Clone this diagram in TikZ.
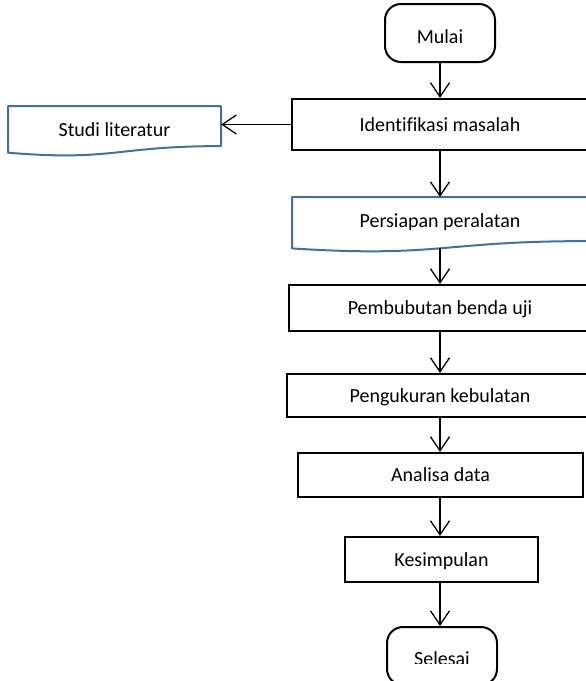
\documentclass[tikz,border=0pt]{standalone}
\usepackage{fontspec}
\setmainfont{Carlito}[Ligatures=NoCommon]
\usetikzlibrary{arrows.meta}
\definecolor{docblue}{HTML}{41719C}
\begin{document}
\begin{tikzpicture}[x=1pt,y=-1pt,
  every node/.style={font=\fontsize{20}{24}\selectfont, inner sep=0pt, text height=13pt, text depth=0pt},
  proc/.style={draw=black, line width=2.2pt, minimum height=#1},
  term/.style={draw=black, line width=2pt, rounded corners=16pt, minimum width=110pt, minimum height=58pt},
  doctext/.style={draw=none},
  docline/.style={draw=docblue, line width=2pt, line join=round},
  arr/.style={line width=1.3pt, -{Straight Barb[length=14pt,width=19pt]}}
]
\useasboundingbox (0,0) rectangle (586,681);
\clip (0,0) rectangle (586,681);

% terminals
\node[term, text height=20pt] (mulai) at (440,33) {Mulai};
\node[term] (selesai) at (442,656) {};
\begin{scope}
  \clip (380,600) rectangle (510,663);
  \node (selesaitext) at (442,658.5) {Selesai};
\end{scope}

% process boxes
\node[proc=51pt, minimum width=296pt] (ident) at (440,124.5) {Identifikasi masalah};
\node[proc=46pt, minimum width=302pt] (bubut) at (440,308) {Pembubutan benda uji};
\node[proc=43pt, minimum width=306pt] (ukur) at (440,395.5) {Pengukuran kebulatan};
\node[proc=44pt, minimum width=285pt] (analisa) at (440.5,475) {Analisa data};
\node[proc=45pt, minimum width=193pt] (simpul) at (441.5,559.5) {Kesimpulan};

% document shapes
\node[doctext, minimum width=213pt] (studi) at (114.5,129.5) {Studi literatur};
\draw[docline] (8,106) -- (221,106) -- (221,146.1)
  .. controls (114.5,146.1) and (114.5,161.4) .. (8,152.7) -- cycle;

\node[doctext, minimum width=296pt] (siap) at (440,221) {Persiapan peralatan};
\draw[docline] (292,197) -- (588,197) -- (588,241.1)
  .. controls (440,241.1) and (440,257.9) .. (292,248.4) -- cycle;
\coordinate (siapbot) at (440,248.3);

% connectors
\draw[arr] (mulai.south) -- (mulai.south |- ident.north);
\draw[arr] (ident.west) -- (ident.west -| studi.east);
\draw[arr] (ident.south) -- (ident.south |- 0,197);
\draw[arr] (siapbot) -- (siapbot |- bubut.north);
\draw[arr] (bubut.south) -- (bubut.south |- ukur.north);
\draw[arr] (ukur.south) -- (ukur.south |- analisa.north);
\draw[arr] (ident.south |- analisa.south) -- (ident.south |- simpul.north);
\draw[arr] (ident.south |- simpul.south) -- (ident.south |- selesai.north);
\end{tikzpicture}
\end{document}
